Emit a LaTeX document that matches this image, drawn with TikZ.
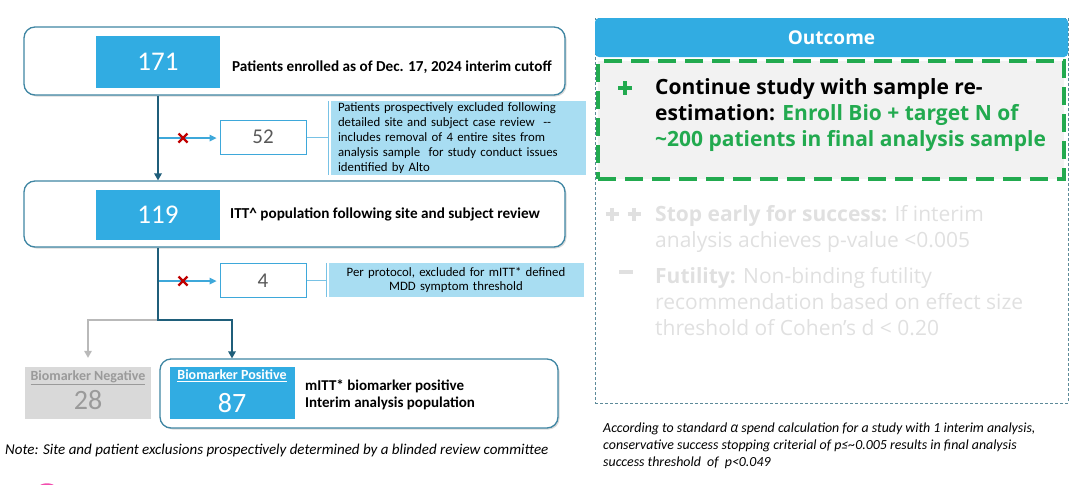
\documentclass[tikz,border=0pt]{standalone}
\usepackage{fontspec}
\setmainfont{Carlito}
\newfontfamily\headfont{Open Sans}
\usetikzlibrary{shadows}
\definecolor{numblue}{HTML}{31ACE2}
\definecolor{trunk}{HTML}{1F5E7A}
\definecolor{frame}{HTML}{3F86A3}
\definecolor{notefill}{HTML}{A8DDF2}
\definecolor{arrowblue}{HTML}{3EA8DA}
\definecolor{crossred}{HTML}{C00000}
\definecolor{okgreen}{HTML}{22AA4F}
\definecolor{fadetxt}{HTML}{E0E0E0}
\definecolor{panelfill}{HTML}{F2F2F2}
\definecolor{panelline}{HTML}{5C8A99}
\definecolor{negfill}{HTML}{D9D9D9}
\definecolor{neggray}{HTML}{9A9A9A}

\begin{document}
\begin{tikzpicture}[x=1pt,y=1pt]
\tikzstyle{every node}+=[inner sep=0pt]
\tikzstyle{stage}=[draw=frame, line width=1.3pt, fill=white, rounded corners=11pt, drop shadow={opacity=0.3, shadow xshift=1.5pt, shadow yshift=-1.5pt}]
\tikzstyle{countbox}=[fill=numblue, text=white, font=\fontsize{27}{29}\selectfont]
\tikzstyle{exbox}=[draw=arrowblue, line width=1pt, fill=white, text=gray!70!black, font=\fontsize{21}{23}\selectfont, minimum width=86pt, minimum height=34pt]
\tikzstyle{notebox}=[fill=notefill, minimum width=255pt, font=\fontsize{12.8}{14.8}\selectfont]
\tikzstyle{label}=[anchor=west, font=\bfseries\fontsize{15.2}{17}\selectfont]
\tikzstyle{fade}=[anchor=north west, align=left, text=fadetxt, font=\headfont\fontsize{21}{26}\selectfont]
\useasboundingbox (0,0) rectangle (1080,-485);

% patient flow
\node [stage, minimum width=541pt, minimum height=68pt] (enrolled) at (294.5,-61) {};
\node [countbox, minimum width=124pt, minimum height=52pt] (n171) at (158,-62) {171};
\node [label] (t171) at (232,-67) {Patients enrolled as of Dec. 17, 2024 interim cutoff};

\node [stage, minimum width=541pt, minimum height=66pt] (itt) at (294.5,-214) {};
\node [countbox, minimum width=124pt, minimum height=50pt] (n119) at (158,-215) {119};
\node [label] (t119) at (230,-214) {ITT\^{} population following site and subject review};

\node [exbox] (ex52) at (263,-137) {52};
\node [notebox, minimum height=74pt, text width=240pt, align=left] (note52) at (458,-138) {Patients prospectively excluded following\\detailed site and subject case review~ -{}-\\includes removal of 4 entire sites from\\analysis sample~ for study conduct issues\\identified by Alto};
\node [exbox] (ex4) at (263,-280.5) {4};
\node [notebox, minimum height=34pt, text width=240pt, align=center] (note4) at (456,-280) {Per protocol, excluded for mITT* defined\\MDD symptom threshold};

\coordinate (br52) at (158,-138);
\coordinate (br4) at (158,-281);
\coordinate (x52) at (183,-138);
\coordinate (x4) at (183,-281);
\coordinate (split) at (158,-320);

\draw [arrowblue, line width=1.2pt] (br52) -- ([xshift=-6pt]ex52.west |- br52);
\fill [arrowblue] ([xshift=-3pt]ex52.west |- br52) -- ++(-7,3.5) -- ++(0,-7) -- cycle;
\draw [crossred, line width=2.2pt] ([shift={(-4.5,-4.5)}]x52) -- ([shift={(4.5,4.5)}]x52) ([shift={(-4.5,4.5)}]x52) -- ([shift={(4.5,-4.5)}]x52);
\draw [arrowblue!70, line width=1pt] (ex52.east) -- ([xshift=-2pt]note52.west |- ex52.east);
\draw [arrowblue!70, line width=1pt] ([xshift=-2pt]note52.north west) -- ([xshift=-2pt]note52.south west);

\draw [arrowblue, line width=1.2pt] (br4) -- ([xshift=-6pt]ex4.west |- br4);
\fill [arrowblue] ([xshift=-3pt]ex4.west |- br4) -- ++(-7,3.5) -- ++(0,-7) -- cycle;
\draw [crossred, line width=2.2pt] ([shift={(-4.5,-4.5)}]x4) -- ([shift={(4.5,4.5)}]x4) ([shift={(-4.5,4.5)}]x4) -- ([shift={(4.5,-4.5)}]x4);
\draw [arrowblue!70, line width=1pt] (ex4.east) -- ([xshift=-2pt]note4.west |- ex4.east);
\draw [arrowblue!70, line width=1pt] ([xshift=-2pt]note4.north west) -- ([xshift=-2pt]note4.south west);

\node [fill=negfill, minimum width=126pt, minimum height=52pt] (bneg) at (88,-393) {};
\node [text=neggray, font=\bfseries\fontsize{14}{16}\selectfont] (bnegtitle) at (88,-378) {\underline{Biomarker Negative}};
\node [text=neggray, font=\fontsize{28}{30}\selectfont] (n28) at (88,-400) {28};

\node [stage, minimum width=398pt, minimum height=69pt] (bpos) at (359,-393.5) {};
\node [fill=numblue, minimum width=125pt, minimum height=52pt] (n87) at (232,-393) {};
\node [text=white, font=\bfseries\fontsize{14}{16}\selectfont] (bpostitle) at (232,-376) {\underline{Biomarker Positive}};
\node [text=white, font=\fontsize{28}{30}\selectfont] (v87) at (232,-403) {87};
\node [anchor=west, align=left, font=\bfseries\fontsize{15}{17.5}\selectfont] (t87) at (305,-395) {mITT* biomarker positive\\Interim analysis population};

\draw [trunk, line width=2pt] (n171.south |- enrolled.south) -- ([yshift=4pt]n171.south |- itt.north);
\fill [trunk] (n171.south |- itt.north) -- ++(-4,7) -- ++(8,0) -- cycle;
\draw [gray!55, line width=2pt] (split) -| ([yshift=12pt]bneg.north);
\fill [gray!55] ([yshift=9pt]bneg.north) -- ++(-4,7) -- ++(8,0) -- cycle;
\draw [trunk, line width=2pt] (n119.south |- itt.south) -- (split) -| ([yshift=3pt]n87.north |- bpos.north);
\fill [trunk] (n87.north |- bpos.north) -- ++(-4,7) -- ++(8,0) -- cycle;

\node [anchor=west, font=\itshape\fontsize{15}{17}\selectfont] (note) at (5,-450) {Note: Site and patient exclusions prospectively determined by a blinded review committee};

% outcome panel
\node [draw=panelline, dash pattern=on 3pt off 2pt, line width=0.8pt, minimum width=473pt, minimum height=385pt] (outcome) at (831.5,-210.5) {};
\node [fill=numblue, rounded corners=4pt, minimum width=473pt, minimum height=39pt, text=white, font=\headfont\bfseries\fontsize{19}{21}\selectfont] (head) at (831.5,-37.5) {Outcome};
\node [draw=okgreen, fill=panelfill, line width=4pt, dash pattern=on 18pt off 9pt, minimum width=466pt, minimum height=118pt] (cont) at (831,-120) {};
\coordinate (plusmark) at (625,-88);
\draw [okgreen, line width=4pt] ([yshift=7pt]plusmark) -- ([yshift=-7pt]plusmark) ([xshift=-7pt]plusmark) -- ([xshift=7pt]plusmark);
\node [anchor=north west, align=left, font=\headfont\bfseries\fontsize{21}{26}\selectfont] (conttxt) at (655,-78) {Continue study with sample re-\\estimation: {\color{okgreen}Enroll Bio + target N of}\\{\color{okgreen}\textasciitilde200 patients in final analysis sample}};

\coordinate (stopmark) at (623,-214);
\draw [fadetxt, line width=3.5pt] ([shift={(-11,6.5)}]stopmark) -- ([shift={(-11,-6.5)}]stopmark) ([shift={(-17.5,0)}]stopmark) -- ([shift={(-4.5,0)}]stopmark) ([shift={(11,6.5)}]stopmark) -- ([shift={(11,-6.5)}]stopmark) ([shift={(4.5,0)}]stopmark) -- ([shift={(17.5,0)}]stopmark);
\node [fade] (stoptxt) at (655,-205) {\textbf{Stop early for success:} If interim\\analysis achieves p-value <0.005};
\coordinate (futmark) at (626,-272);
\draw [fadetxt, line width=4pt] ([xshift=-7pt]futmark) -- ([xshift=7pt]futmark);
\node [fade] (futtxt) at (655,-267) {\textbf{Futility:} Non-binding futility\\recommendation based on effect size\\threshold of Cohen’s d < 0.20};

\node [anchor=north west, align=left, font=\itshape\fontsize{13.9}{17}\selectfont] (alpha) at (603,-423) {According to standard {\headfont\itshape α} spend calculation for a study with 1 interim analysis,\\conservative success stopping criterial of p≤\textasciitilde0.005 results in final analysis\\success threshold~ of~ p<0.049};

\draw [magenta!70, line width=1.5pt] (47,-498) circle (14);
\end{tikzpicture}
\end{document}
